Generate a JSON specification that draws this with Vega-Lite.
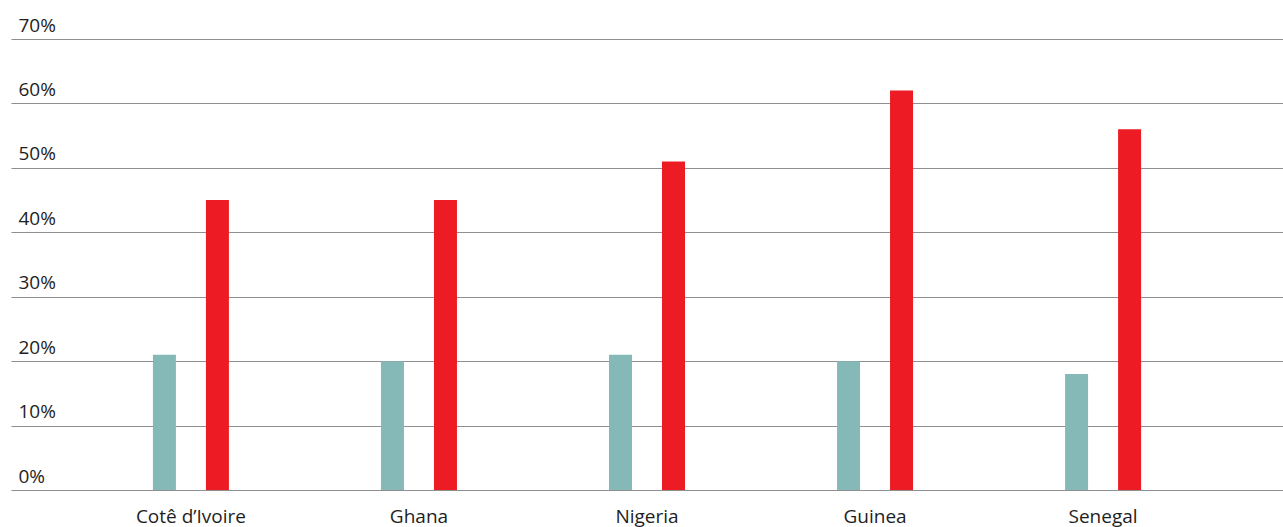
{
  "$schema": "https://vega.github.io/schema/vega-lite/v6.json",
  "autosize": {"type": "none"},
  "width": 1272,
  "height": 451,
  "padding": {"left": 11, "top": 39, "right": 0, "bottom": 37},
  "background": "white",
  "config": {
    "view": {"stroke": null},
    "font": "Open Sans",
    "axis": {"labelFont": "Open Sans", "labelFontSize": 19, "labelColor": "#1e1e1e"}
  },
  "data": {
    "values": [
      {"country": "Cotê d’Ivoire", "series": "Series 1", "value": 21},
      {"country": "Cotê d’Ivoire", "series": "Series 2", "value": 45},
      {"country": "Ghana", "series": "Series 1", "value": 20},
      {"country": "Ghana", "series": "Series 2", "value": 45},
      {"country": "Nigeria", "series": "Series 1", "value": 21},
      {"country": "Nigeria", "series": "Series 2", "value": 51},
      {"country": "Guinea", "series": "Series 1", "value": 20},
      {"country": "Guinea", "series": "Series 2", "value": 62},
      {"country": "Senegal", "series": "Series 1", "value": 18},
      {"country": "Senegal", "series": "Series 2", "value": 56}
    ]
  },
  "mark": {"type": "bar"},
  "encoding": {
    "x": {
      "field": "country",
      "type": "nominal",
      "sort": null,
      "scale": {"paddingInner": 0, "paddingOuter": 0.289},
      "axis": {
        "title": null,
        "labelAngle": 0,
        "domain": false,
        "ticks": false,
        "labelPadding": 17,
        "labelBaseline": "top"
      }
    },
    "xOffset": {
      "field": "series",
      "type": "nominal",
      "scale": {"domain": ["pad1", "Series 1", "Series 2", "pad2"], "paddingInner": 0.566, "paddingOuter": 0.434}
    },
    "y": {
      "field": "value",
      "type": "quantitative",
      "scale": {"domain": [0, 70], "nice": false},
      "axis": {
        "title": null,
        "values": [0, 10, 20, 30, 40, 50, 60, 70],
        "labelExpr": "datum.value + '%'",
        "domain": false,
        "ticks": false,
        "grid": true,
        "gridColor": "#8f8f8f",
        "gridWidth": 1,
        "labelAlign": "left",
        "labelPadding": -7,
        "labelBaseline": "alphabetic",
        "labelOffset": -8
      }
    },
    "color": {
      "field": "series",
      "type": "nominal",
      "scale": {"domain": ["Series 1", "Series 2"], "range": ["#85b9b7", "#ed1c24"]},
      "legend": null
    }
  }
}
